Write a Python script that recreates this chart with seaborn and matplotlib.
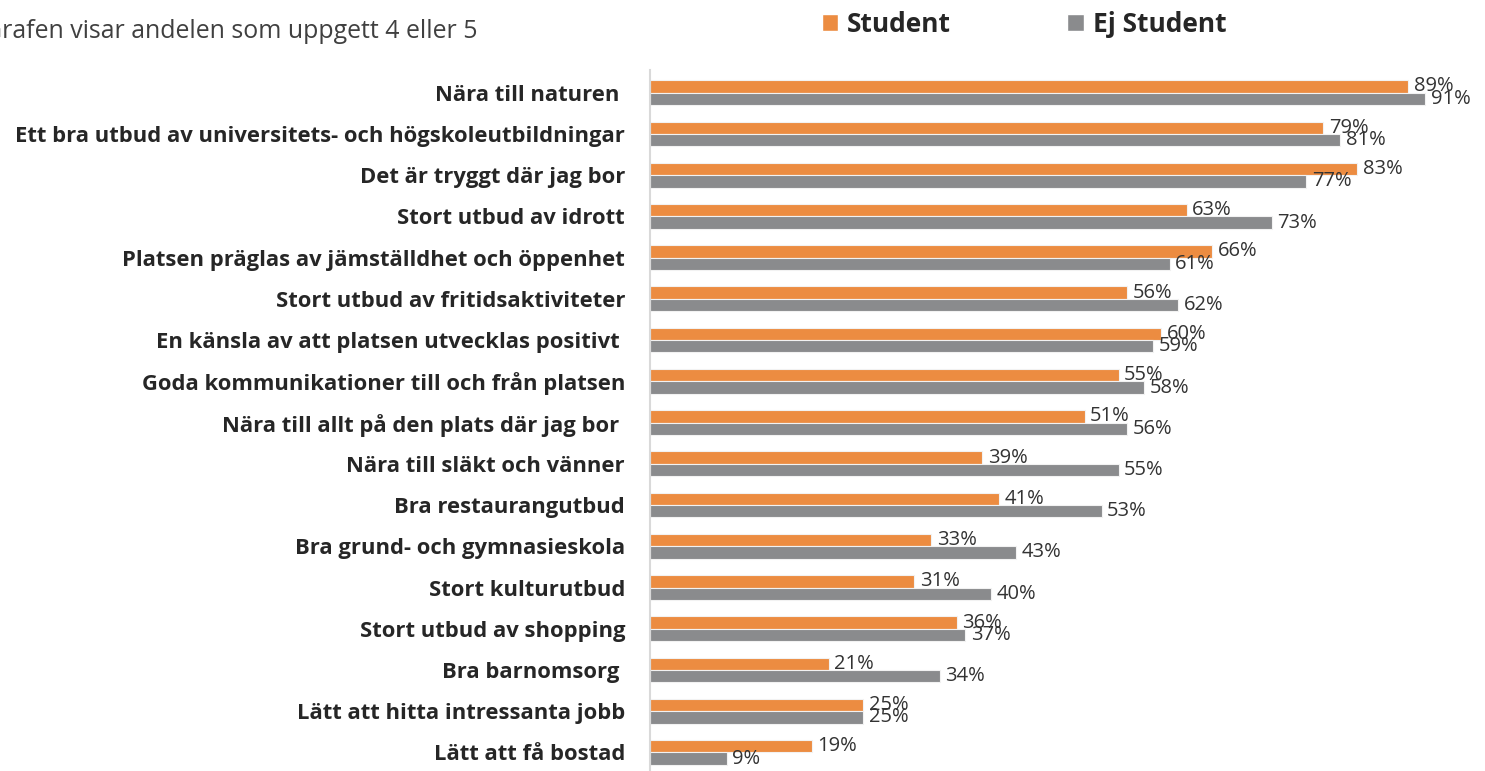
import matplotlib
matplotlib.use("Agg")
import matplotlib.pyplot as plt
from matplotlib.patches import Patch
import seaborn as sns
import pandas as pd

# Survey factors, top to bottom, with the share answering 4 or 5 (%)
categories = [
    "Nära till naturen ",
    "Ett bra utbud av universitets- och högskoleutbildningar",
    "Det är tryggt där jag bor",
    "Stort utbud av idrott",
    "Platsen präglas av jämställdhet och öppenhet",
    "Stort utbud av fritidsaktiviteter",
    "En känsla av att platsen utvecklas positivt ",
    "Goda kommunikationer till och från platsen",
    "Nära till allt på den plats där jag bor ",
    "Nära till släkt och vänner",
    "Bra restaurangutbud",
    "Bra grund- och gymnasieskola",
    "Stort kulturutbud",
    "Stort utbud av shopping",
    "Bra barnomsorg ",
    "Lätt att hitta intressanta jobb",
    "Lätt att få bostad",
]
student = [89, 79, 83, 63, 66, 56, 60, 55, 51, 39, 41, 33, 31, 36, 21, 25, 19]
ej_student = [91, 81, 77, 73, 61, 62, 59, 58, 56, 55, 53, 43, 40, 37, 34, 25, 9]
series_names = ["Student", "Ej Student"]
title_text = "Grafen visar andelen som uppgett 4 eller 5"

ORANGE = "#EC8C41"
GRAY = "#8A8B8D"
TEXT = "#262626"

n = len(categories)
df = pd.DataFrame({
    "Faktor": categories * 2,
    "Andel": student + ej_student,
    "Grupp": [series_names[0]] * n + [series_names[1]] * n,
})

sns.set_theme(style="white")
plt.rcParams["font.family"] = ["Open Sans", "DejaVu Sans"]

W, H = 1485, 771
fig = plt.figure(figsize=(W / 100, H / 100), dpi=100)
ax = fig.add_axes([650 / W, 0, (W - 650) / W, 1 - 70 / H])

sns.barplot(
    data=df, y="Faktor", x="Andel", hue="Grupp",
    palette=[ORANGE, GRAY], saturation=1, width=0.6, orient="h",
    edgecolor="#F2F2F2", linewidth=0.8, legend=False, ax=ax,
)

for cont in ax.containers:
    ax.bar_label(cont, fmt="%g%%", padding=4, fontsize=14.5, color="#333333")

ax.set_xlim(0, 98)
ax.set_ylim(n - 0.55, -0.55)
ax.set_xlabel("")
ax.set_ylabel("")
ax.set_xticks([])
for side in ("top", "right", "bottom"):
    ax.spines[side].set_visible(False)
ax.spines["left"].set_color("#D9D9D9")
ax.spines["left"].set_linewidth(1.5)
ax.tick_params(axis="y", length=0, pad=18, labelsize=15.8, labelcolor=TEXT)
for lbl in ax.get_yticklabels():
    lbl.set_fontweight("bold")

handles = [Patch(facecolor=ORANGE), Patch(facecolor=GRAY)]
fig.legend(
    handles, series_names, loc="center", bbox_to_anchor=(1024 / W, 1 - 24 / H),
    ncol=2, frameon=False, prop={"weight": "bold", "size": 19},
    handlelength=0.62, handleheight=0.62, handletextpad=0.35, columnspacing=4.4,
    labelcolor=TEXT,
)

fig.text(-16 / W, 1 - 32 / H, title_text, fontsize=17.9, color="#404040", va="center")

fig.savefig("out.png", dpi=100)
